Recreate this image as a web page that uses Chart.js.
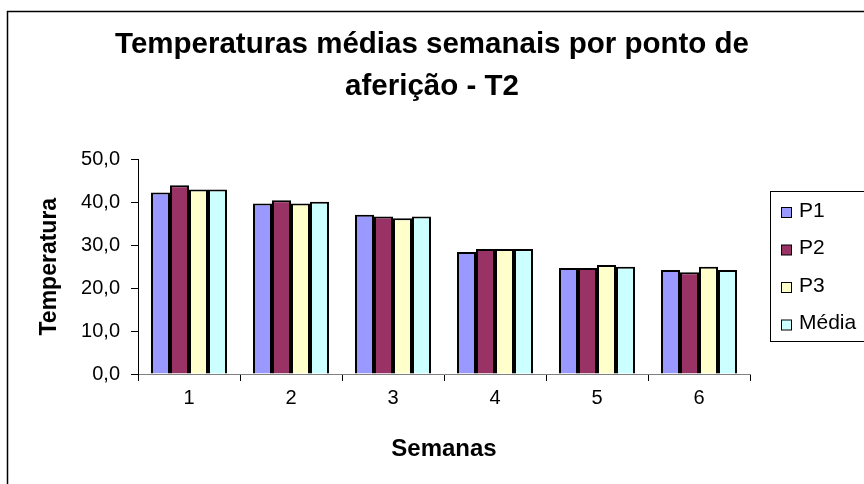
<!DOCTYPE html>
<html>
<head>
<meta charset="utf-8">
<script src="https://cdn.jsdelivr.net/npm/chart.js@4/dist/chart.umd.min.js"></script>
<style>
  html, body { margin: 0; padding: 0; background: #ffffff; }
  #wrap { width: 864px; height: 484px; }
</style>
</head>
<body>
<div id="wrap"><canvas id="c" width="864" height="484"></canvas></div>
<script>
const weeks = ['1', '2', '3', '4', '5', '6'];
const seriesNames = ['P1', 'P2', 'P3', 'Média'];
const p1 = [42.3, 39.7, 37.1, 28.4, 24.7, 24.2];
const p2 = [44.0, 40.5, 36.7, 29.1, 24.7, 23.7];
const p3 = [43.0, 39.7, 36.3, 29.1, 25.4, 25.0];
const media = [43.0, 40.1, 36.7, 29.1, 25.0, 24.2];
const yTicks = [0, 10, 20, 30, 40, 50];
const titleLines = ['Temperaturas médias semanais por ponto de', 'aferição - T2'];
const xTitle = 'Semanas';
const yTitle = 'Temperatura';

const colors = ['#9999FF', '#993366', '#FFFFCC', '#CCFFFF'];
const FONT = "'Liberation Sans', Arial, sans-serif";

const frameAndLegend = {
  id: 'frameAndLegend',
  afterDraw(chart) {
    const ctx = chart.ctx;
    ctx.save();
    // outer chart frame
    ctx.strokeStyle = '#000';
    ctx.lineWidth = 1.5;
    ctx.strokeRect(7.5, 11.5, 1000, 1000);
    // legend frame
    ctx.lineWidth = 1;
    ctx.strokeRect(770.5, 191.5, 300, 150);
    // legend items
    ctx.font = '21px ' + FONT;
    ctx.textBaseline = 'middle';
    ctx.textAlign = 'left';
    chart.data.datasets.forEach((ds, i) => {
      const cy = 211 + i * 37.5;
      ctx.fillStyle = ds.backgroundColor;
      ctx.fillRect(781.5, cy - 4.5 + 1, 10, 10);
      ctx.strokeStyle = '#000';
      ctx.lineWidth = 1;
      ctx.strokeRect(781.5, cy - 4.5 + 1, 10, 10);
      ctx.fillStyle = '#000';
      ctx.fillText(ds.label, 799, cy);
    });
    ctx.restore();
  }
};

const dataArrays = [p1, p2, p3, media];
new Chart(document.getElementById('c'), {
  type: 'bar',
  data: {
    labels: weeks,
    datasets: seriesNames.map((name, i) => ({
      label: name,
      data: dataArrays[i],
      backgroundColor: colors[i],
      borderColor: '#000',
      borderWidth: 2,
      categoryPercentage: 0.745,
      barPercentage: 1.0
    }))
  },
  options: {
    responsive: false,
    devicePixelRatio: 1,
    animation: false,
    layout: { padding: { left: 0, right: 0, top: 0, bottom: 0 } },
    plugins: {
      legend: { display: false },
      tooltip: { enabled: false },
      title: {
        display: true,
        text: titleLines,
        color: '#000',
        font: { family: FONT, size: 29.5, weight: 'bold', lineHeight: 1.43 },
        padding: { top: 24, bottom: 51 }
      }
    },
    scales: {
      x: {
        type: 'category',
        offset: true,
        grid: { offset: true, drawOnChartArea: false, tickLength: 7, color: '#000', lineWidth: 1 },
        border: { display: true, color: '#808080', width: 1 },
        ticks: { color: '#000', padding: 5, font: { family: FONT, size: 20 } },
        title: {
          display: true, text: xTitle, color: '#000',
          font: { family: FONT, size: 24, weight: 'bold', lineHeight: 1.2 },
          padding: { top: 0, bottom: 20 }
        },
        afterFit(s) { s.height = 110; }
      },
      y: {
        min: 0, max: 50,
        afterBuildTicks(s) { s.ticks = yTicks.map(v => ({ value: v })); },
        grid: { drawOnChartArea: false, tickLength: 7, color: '#000', lineWidth: 1 },
        border: { display: true, color: '#000', width: 1 },
        ticks: {
          color: '#000', padding: 11, font: { family: FONT, size: 20 },
          callback: v => v.toFixed(1).replace('.', ',')
        },
        title: {
          display: true, text: yTitle, color: '#000',
          font: { family: FONT, size: 23, weight: 'bold', lineHeight: 1.2 },
          padding: { top: 36, bottom: 0 }
        },
        afterFit(s) { s.width = 138; }
      },
      yRight: {
        type: 'linear',
        position: 'right',
        display: true,
        grid: { display: false },
        border: { display: false },
        ticks: { display: false },
        afterFit(s) { s.width = 114; }
      }
    }
  },
  plugins: [frameAndLegend]
});
</script>
</body>
</html>
